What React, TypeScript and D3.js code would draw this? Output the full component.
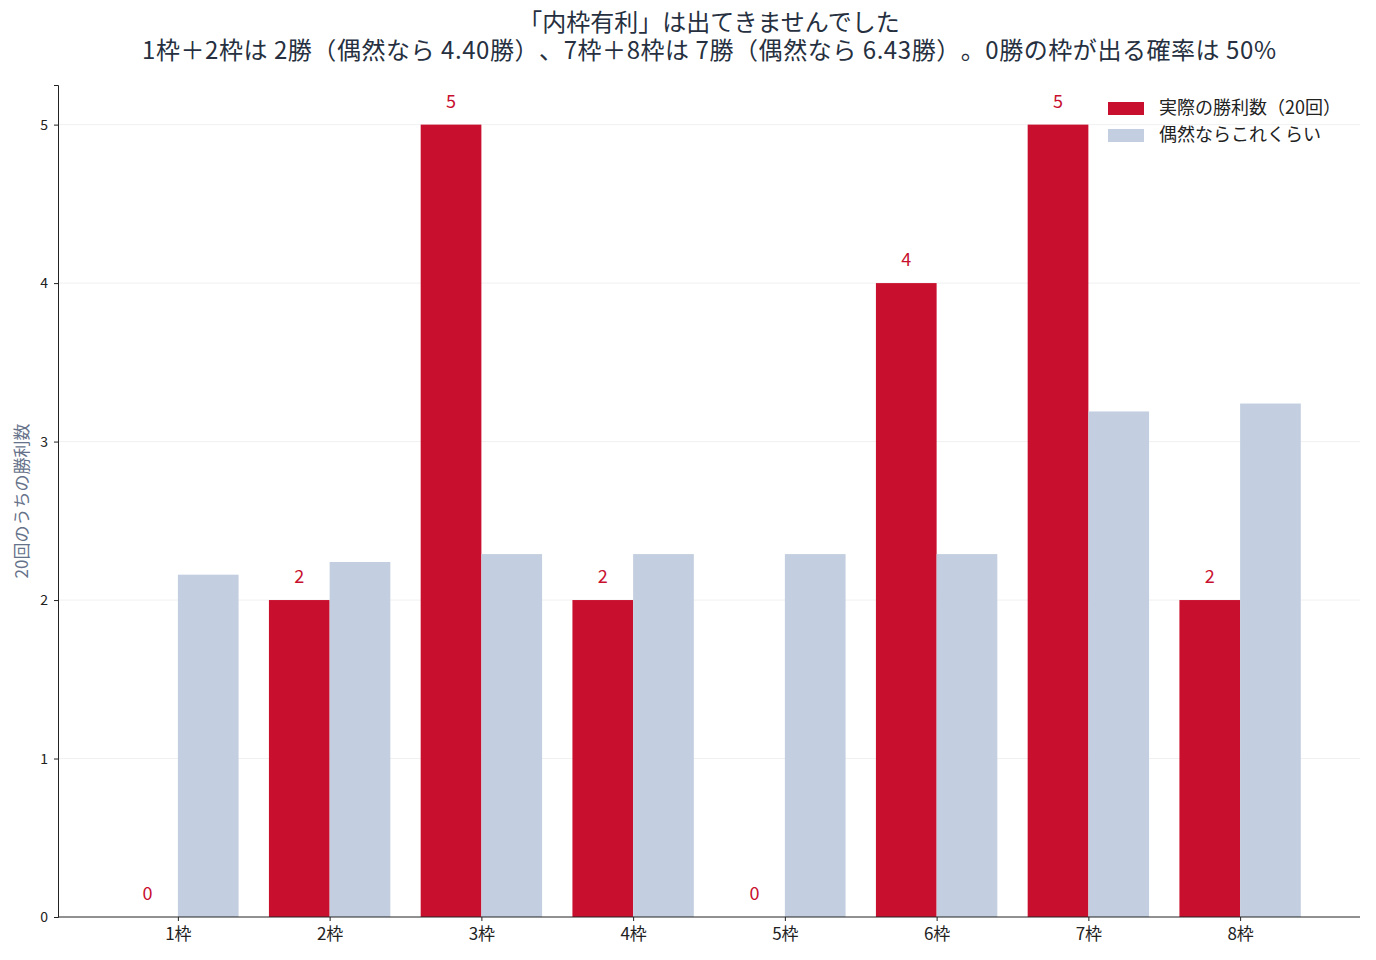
import { useEffect, useRef } from 'react'
import * as d3 from 'd3'

const categories = ['1枠', '2枠', '3枠', '4枠', '5枠', '6枠', '7枠', '8枠']
const actualWins = [0, 2, 5, 2, 0, 4, 5, 2]
const expectedWins = [2.16, 2.24, 2.29, 2.29, 2.29, 2.29, 3.19, 3.24]
const yTicks = [0, 1, 2, 3, 4, 5]
const titleLines = [
  '「内枠有利」は出てきませんでした',
  '1枠＋2枠は 2勝（偶然なら 4.40勝）、7枠＋8枠は 7勝（偶然なら 6.43勝）。0勝の枠が出る確率は 50%',
]
const legendLabels = ['実際の勝利数（20回）', '偶然ならこれくらい']

const RED = '#c8102e'
const BLUE = '#c3cfe0'
const FONT = '"Noto Sans CJK JP", "Noto Sans", sans-serif'

export default function App() {
  const ref = useRef<SVGSVGElement>(null)

  useEffect(() => {
    const svg = d3.select(ref.current!)
    svg.selectAll('*').remove()
    const W = 1376, H = 960
    const m = { t: 85, r: 16, b: 43, l: 58 }
    const iW = W - m.l - m.r, iH = H - m.t - m.b
    svg.attr('width', W).attr('height', H).attr('font-family', FONT)
    const g = svg.append('g').attr('transform', `translate(${m.l},${m.t})`)

    const x = d3.scaleLinear().domain([-0.79, categories.length - 1 + 0.79]).range([0, iW])
    const y = d3.scaleLinear().domain([0, 5.25]).range([iH, 0])
    const bw = x(0.4) - x(0)

    // grid
    g.selectAll('.grid').data(yTicks.slice(1)).join('line')
      .attr('x1', 0).attr('x2', iW).attr('y1', d => y(d)).attr('y2', d => y(d))
      .attr('stroke', '#ececec').attr('stroke-width', 0.8)

    // bars
    categories.forEach((c, i) => {
      const a = actualWins[i], e = expectedWins[i]
      g.append('rect').attr('x', x(i - 0.4)).attr('width', bw)
        .attr('y', y(a)).attr('height', iH - y(a)).attr('fill', RED)
      g.append('rect').attr('x', x(i)).attr('width', bw)
        .attr('y', y(e)).attr('height', iH - y(e)).attr('fill', BLUE)
      g.append('text').attr('x', x(i - 0.2)).attr('y', y(a) - 17)
        .attr('text-anchor', 'middle').attr('fill', RED).attr('font-size', 18).text(a)
    })

    // axes
    const yAxis = g.append('g').call(d3.axisLeft(y).tickValues(yTicks).tickSize(4).tickPadding(6).tickFormat(d3.format('d')))
    yAxis.selectAll('text').attr('font-size', 14).attr('fill', '#222').attr('font-family', FONT)
    yAxis.selectAll('line').attr('stroke', '#222')
    yAxis.select('.domain').attr('stroke', '#222')

    const xAxis = g.append('g').attr('transform', `translate(0,${iH})`)
      .call(d3.axisBottom(x).tickValues(d3.range(categories.length)).tickSize(4).tickPadding(7)
        .tickFormat(d => categories[d as number]))
    xAxis.selectAll('text').attr('font-size', 17).attr('fill', '#222').attr('font-family', FONT)
    xAxis.selectAll('line').attr('stroke', '#222')
    xAxis.select('.domain').attr('stroke', '#222').attr('d', `M0,0H${iW}`)

    // y label
    svg.append('text').attr('transform', `translate(28,${m.t + iH / 2}) rotate(-90)`)
      .attr('text-anchor', 'middle').attr('fill', '#66728a').attr('font-size', 17)
      .text('20回のうちの勝利数')

    // title
    titleLines.forEach((t, i) => {
      const tx = svg.append('text').attr('x', m.l + iW / 2).attr('y', 31 + i * 28)
        .attr('text-anchor', 'middle').attr('fill', '#263040').attr('font-size', 24).text(t)
      if (i === 1) tx.attr('textLength', 1134).attr('lengthAdjust', 'spacing')
    })

    // legend
    const leg = svg.append('g').attr('transform', 'translate(1108,102)')
    ;[RED, BLUE].forEach((col, i) => {
      leg.append('rect').attr('x', 0).attr('y', i * 27).attr('width', 36).attr('height', 13).attr('fill', col)
      leg.append('text').attr('x', 51).attr('y', i * 27 + 12).attr('font-size', 18).attr('fill', '#222')
        .text(legendLabels[i])
    })
  }, [])

  return (
    <svg ref={ref}
      style={{ position: 'absolute', left: 0, top: 0, background: '#fff', textSpacingTrim: 'space-all' } as any} />
  )
}
